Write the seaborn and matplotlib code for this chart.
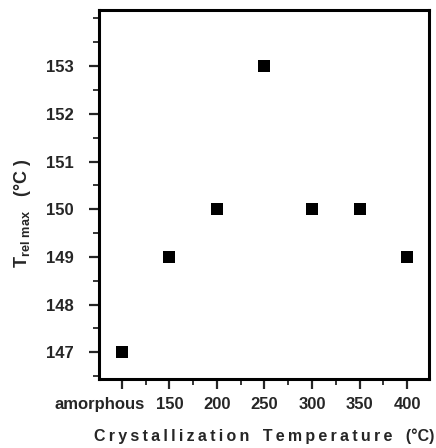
import matplotlib
matplotlib.use('Agg')
import matplotlib.pyplot as plt
import matplotlib.transforms as mtransforms
import seaborn as sns
import pandas as pd
from matplotlib.ticker import MultipleLocator

# data
cryst_temp = [100, 150, 200, 250, 300, 350, 400]   # 100 = amorphous
t_relmax = [147, 149, 150, 153, 150, 150, 149]
x_ticks = [100, 150, 200, 250, 300, 350, 400]
x_labels = ['amorphous', '150', '200', '250', '300', '350', '400']
y_ticks = [147, 148, 149, 150, 151, 152, 153]


def spaced(s, gap='\u2009'):
    """Fake letter spacing like the old typeset figure."""
    return gap.join(s)


df = pd.DataFrame({'temp': cryst_temp, 'trel': t_relmax})

sns.set_style('ticks')
plt.rcParams['font.family'] = ['Liberation Sans', 'DejaVu Sans']
plt.rcParams['font.weight'] = 'bold'
plt.rcParams['mathtext.fontset'] = 'custom'
plt.rcParams['mathtext.bf'] = 'Liberation Sans:bold'
plt.rcParams['mathtext.rm'] = 'Liberation Sans:bold'

fig = plt.figure(figsize=(4.36, 4.48), dpi=100)
ax = fig.add_axes([0.227, 0.154, 0.757, 0.823])

sns.scatterplot(data=df, x='temp', y='trel', marker='s', s=75, color='black',
                edgecolor='black', linewidth=0, ax=ax, zorder=3)

ax.set_xlim(76, 423)
ax.set_ylim(146.44, 154.17)
ax.set_xticks(x_ticks)
ax.set_xticklabels(x_labels, fontsize=12, fontweight='bold')
ax.set_yticks(y_ticks)
ax.set_yticklabels([str(v) for v in y_ticks], fontsize=12, fontweight='bold')
ax.xaxis.set_minor_locator(MultipleLocator(25))
ax.yaxis.set_minor_locator(MultipleLocator(0.5))
ax.tick_params(which='major', direction='out', length=7, width=1.6, pad=11)
ax.tick_params(which='minor', direction='out', length=4, width=1.3)
ax.tick_params(axis='x', which='major', pad=6)
for sp in ax.spines.values():
    sp.set_visible(True)
    sp.set_linewidth(2.2)
    sp.set_color('black')

# the "amorphous" label sits left of its tick in the original
lbl = ax.get_xticklabels()[0]
lbl.set_transform(lbl.get_transform() +
                  mtransforms.ScaledTranslation(-22 / 100, 0, fig.dpi_scale_trans))

ax.set_xlabel(spaced('Crystallization') + '   ' +
              spaced('Temperature') + '   (°C)',
              fontsize=11.5, fontweight='bold', labelpad=12)
ax.set_ylabel(r'T$_{\mathbf{rel\ max}}$   (°C )', fontsize=13,
              fontweight='bold')
ax.yaxis.set_label_coords(-0.20, 0.45)

fig.savefig('out.png', dpi=100)
